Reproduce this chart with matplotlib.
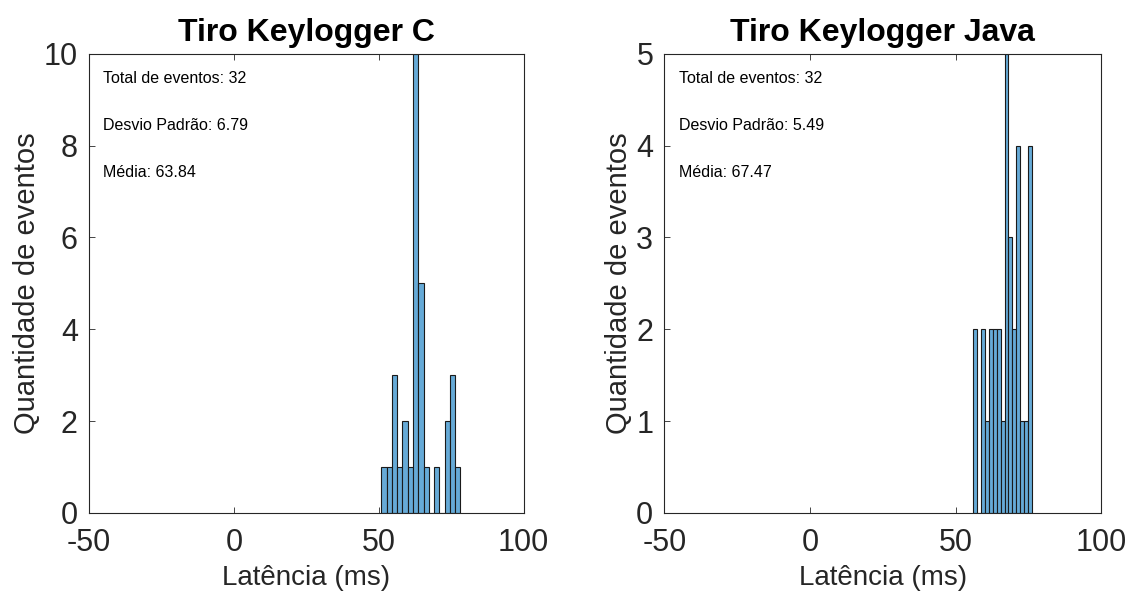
import matplotlib
matplotlib.use('Agg')
import matplotlib.pyplot as plt
import numpy as np

# --- histogram data (bin edges in ms, counts per bin)
edges_c = [50.90, 52.72, 54.54, 56.36, 58.18, 60.00, 61.82, 63.64, 65.46,
           67.28, 69.10, 70.92, 72.74, 74.56, 76.38, 78.20]
counts_c = [1, 1, 3, 1, 2, 1, 10, 5, 1, 0, 1, 0, 2, 3, 1]

edges_java = [56.00, 57.35, 58.70, 60.05, 61.40, 62.75, 64.10, 65.45, 66.80,
              68.15, 69.50, 70.85, 72.20, 73.55, 74.90, 76.25]
counts_java = [2, 0, 2, 1, 2, 2, 2, 1, 5, 3, 2, 4, 1, 1, 4]

titles = ['Tiro Keylogger C', 'Tiro Keylogger Java']
stats_total = [32, 32]
stats_std = [6.79, 5.49]
stats_mean = [63.84, 67.47]
ylims = [10, 5]
yticks = [[0, 2, 4, 6, 8, 10], [0, 1, 2, 3, 4, 5]]
xticks = [-50, 0, 50, 100]

plt.rcParams['font.family'] = ['Liberation Sans', 'DejaVu Sans']
plt.rcParams['axes.unicode_minus'] = False
axcol = '#262626'
barcol = (0.4, 0.668, 0.845)

fig = plt.figure(figsize=(11.26, 5.97), dpi=100)
positions = [[0.079, 0.141, 0.386, 0.769], [0.590, 0.141, 0.388, 0.769]]

for k, (edges, counts) in enumerate([(edges_c, counts_c), (edges_java, counts_java)]):
    ax = fig.add_axes(positions[k])
    e = np.array(edges)
    ax.bar(e[:-1], counts, width=np.diff(e), align='edge',
           color=barcol, edgecolor='#1a1a1a', linewidth=0.8)
    ax.set_xlim(-50, 100)
    ax.set_ylim(0, ylims[k])
    ax.set_xticks(xticks)
    ax.set_yticks(yticks[k])
    ax.tick_params(direction='in', length=4, width=0.6, colors=axcol,
                   labelsize=22, top=True, right=False)
    ax.tick_params(axis='x', pad=11)
    ax.tick_params(axis='y', pad=8)
    for s in ax.spines.values():
        s.set_color(axcol)
        s.set_linewidth(0.8)
    ax.set_title(titles[k], fontsize=23, fontweight='bold', color='k', pad=9)
    ax.set_xlabel('Latência (ms)', fontsize=20, color=axcol, labelpad=5)
    ax.set_ylabel('Quantidade de eventos', fontsize=21, color=axcol, labelpad=2)

    yl = ylims[k]
    ax.text(-45, 0.945 * yl, 'Total de eventos: %d' % stats_total[k], fontsize=11.5, va='center', color='k')
    ax.text(-45, 0.843 * yl, 'Desvio Padrão: %.2f' % stats_std[k], fontsize=11.5, va='center', color='k')
    ax.text(-45, 0.741 * yl, 'Média: %.2f' % stats_mean[k], fontsize=11.5, va='center', color='k')

plt.savefig('out.png', dpi=100)
plt.close('all')
